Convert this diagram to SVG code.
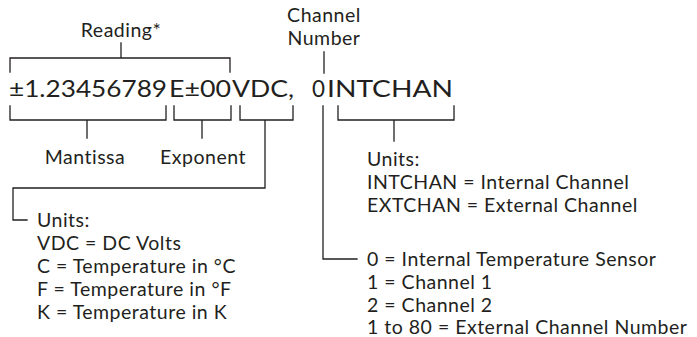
<svg xmlns="http://www.w3.org/2000/svg" width="697" height="337" viewBox="0 0 697 337">
<style>
.ln{fill:none;stroke:#231f20;stroke-width:1.3;stroke-linecap:square}
.lb{font-family:Lato,"Open Sans",sans-serif;font-size:19.5px;letter-spacing:0.5px;fill:#231f20}
.mn{font-family:Lato,"Open Sans",sans-serif;font-size:24px;fill:#231f20}
.c{text-anchor:middle}
</style>
<rect width="697" height="337" fill="#fff"/>
<g id="reading">
<text class="lb c" x="121" y="37">Reading*</text>
</g>
<g id="channel-number">
<text class="lb c" x="324" y="22">Channel</text>
<text class="lb c" x="324" y="45">Number</text>
</g>
<g id="output-string">
<text class="mn" y="97"><tspan x="9" textLength="158" lengthAdjust="spacingAndGlyphs">±1.23456789</tspan><tspan x="169" textLength="62" lengthAdjust="spacingAndGlyphs">E±00</tspan><tspan x="232" textLength="62" lengthAdjust="spacingAndGlyphs">VDC,</tspan><tspan x="312" textLength="13" lengthAdjust="spacingAndGlyphs">0</tspan><tspan x="327" textLength="126" lengthAdjust="spacingAndGlyphs">INTCHAN</tspan></text>
</g>
<g id="mantissa">
<text class="lb c" x="85" y="164">Mantissa</text>
</g>
<g id="exponent">
<text class="lb c" x="203" y="164">Exponent</text>
</g>
<g id="units-reading">
<text class="lb" x="37" y="227">Units:</text>
<text class="lb" x="37" y="250">VDC = DC Volts</text>
<text class="lb" x="37" y="273">C = Temperature in °C</text>
<text class="lb" x="37" y="296">F = Temperature in °F</text>
<text class="lb" x="37" y="319">K = Temperature in K</text>
</g>
<g id="units-channel">
<text class="lb" x="367" y="166">Units:</text>
<text class="lb" x="367" y="189">INTCHAN = Internal Channel</text>
<text class="lb" x="367" y="212">EXTCHAN = External Channel</text>
</g>
<g id="channel-values">
<text class="lb" x="367" y="266">0 = Internal Temperature Sensor</text>
<text class="lb" x="367" y="289">1 = Channel 1</text>
<text class="lb" x="367" y="312">2 = Channel 2</text>
<text class="lb" x="367" y="334">1 to 80 = External Channel Number</text>
</g>
<g id="connectors">
<path class="ln" d="M121 43V58M10 72V58H230V72"/>
<path class="ln" d="M324 52V73"/>
<path class="ln" d="M10 106V120H166V106M87 120V138"/>
<path class="ln" d="M174 106V120H231V106M202 120V138"/>
<path class="ln" d="M240 106V120H293V106M265 120V188H13V220H27"/>
<path class="ln" d="M323 106V259H357"/>
<path class="ln" d="M338 106V120H454V106M394 120V141"/>
</g>
</svg>
